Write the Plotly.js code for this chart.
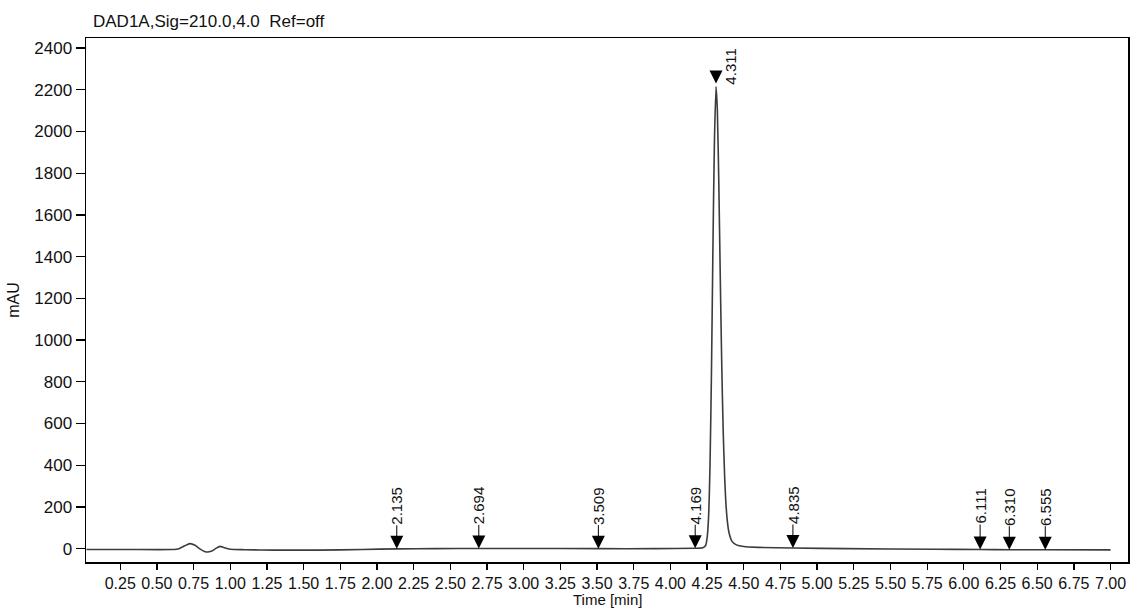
<!DOCTYPE html>
<html>
<head>
<meta charset="utf-8">
<script src="https://cdn.plot.ly/plotly-3.0.1.min.js"></script>
<style>html,body{margin:0;padding:0;background:#fff;}#chart{width:1130px;height:608px;}</style>
</head>
<body>
<div id="chart"></div>
<script>
// Chromatogram trace (time in min, signal in mAU)
var times = [0.02,0.30,0.60,0.65,0.69,0.725,0.76,0.79,0.83,0.87,
             0.90,0.93,0.96,1.00,1.10,1.30,1.60,1.90,2.135,2.40,
             2.694,3.00,3.509,3.90,4.169,4.22,4.24,4.25,4.26,4.27,
             4.28,4.29,4.30,4.311,4.32,4.33,4.34,4.35,4.36,4.37,
             4.38,4.39,4.40,4.42,4.45,4.50,4.60,4.835,5.20,5.80,
             6.111,6.310,6.555,7.00];
var signal = [-4,-4,-4,0,14,24,16,0,-15,-13,
              0,11,4,-3,-5,-7,-7,-4,-1,0,
              1,1,0,0,2,4,15,50,150,400,
              850,1450,1950,2215,2100,1750,1300,880,560,340,
              200,120,75,35,18,10,6,3,0,-3,
              -4,-5,-5,-6];

// Small peaks marked on the baseline
var peakTimes = [2.135,2.694,3.509,4.169,4.835,6.111,6.310,6.555];
var peakHeights = [-1,1,0,2,3,-4,-5,-5];
var peakLabels = ["2.135","2.694","3.509","4.169","4.835","6.111","6.310","6.555"];

// Main peak
var mainPeakTime = 4.311;
var mainPeakHeight = 2215;
var mainPeakLabel = "4.311";

var chartTitle = "DAD1A,Sig=210.0,4.0  Ref=off";
var xTitle = "Time [min]";
var yTitle = "mAU";

var FONT = "Liberation Sans, Arial, sans-serif";
var TXT = "#111111";

var annotations = [];
for (var i = 0; i < peakTimes.length; i++) {
  annotations.push({
    x: peakTimes[i], y: peakHeights[i], xref: 'x', yref: 'y',
    text: peakLabels[i], textangle: -90,
    font: {family: FONT, size: 15, color: TXT},
    showarrow: true, ax: 0, ay: -43,
    arrowhead: 2, arrowsize: 2.6, arrowwidth: 1, arrowcolor: '#000',
    standoff: 0, borderpad: 0
  });
}
annotations.push({
  x: mainPeakTime, y: mainPeakHeight, xref: 'x', yref: 'y',
  text: '', showarrow: true, ax: 0, ay: -13,
  arrowhead: 2, arrowsize: 2.6, arrowwidth: 1, arrowcolor: '#000', standoff: 3
});
annotations.push({
  x: mainPeakTime, y: mainPeakHeight, xref: 'x', yref: 'y',
  text: mainPeakLabel, textangle: -90, showarrow: false,
  xanchor: 'center', yanchor: 'middle', xshift: 15, yshift: 20,
  font: {family: FONT, size: 15, color: TXT}
});
// x-axis title placed as a paper annotation so it sits below the tick labels
annotations.push({
  xref: 'paper', yref: 'paper', x: 0.5, y: -(599.5 - 562) / 524,
  xanchor: 'center', yanchor: 'middle', showarrow: false, borderpad: 0,
  text: xTitle, font: {family: FONT, size: 15, color: TXT}
});

var data = [{
  x: times, y: signal, type: 'scatter', mode: 'lines',
  line: {color: '#3c3c3c', width: 1.6, shape: 'spline', smoothing: 0.6},
  hoverinfo: 'skip'
}];

var layout = {
  width: 1130, height: 608,
  margin: {l: 86, r: 2, t: 38, b: 46},
  paper_bgcolor: '#fff', plot_bgcolor: '#fff',
  showlegend: false,
  title: {
    text: chartTitle, xref: 'container', yref: 'container',
    x: 93/1130, xanchor: 'left', y: 1 - 21/608, yanchor: 'middle',
    font: {family: FONT, size: 17, color: TXT}
  },
  xaxis: {
    range: [0.0167, 7.119], tick0: 0.25, dtick: 0.25, tickformat: '.2f',
    ticks: 'outside', ticklen: 6, tickwidth: 1.3, tickcolor: '#000',
    showline: true, linecolor: '#000', linewidth: 1.5, mirror: true,
    showgrid: false, zeroline: false,
    tickfont: {family: FONT, size: 16, color: TXT},
    automargin: false
  },
  yaxis: {
    range: [-64, 2448], tick0: 0, dtick: 200,
    ticks: 'outside', ticklen: 9, tickwidth: 1.3, tickcolor: '#000',
    showline: true, linecolor: '#000', linewidth: 1.5, mirror: true,
    showgrid: false, zeroline: false,
    tickfont: {family: FONT, size: 17, color: TXT},
    title: {text: yTitle, font: {family: FONT, size: 16, color: TXT}, standoff: 10},
    automargin: false
  },
  annotations: annotations
};

Plotly.newPlot('chart', data, layout, {staticPlot: true, displayModeBar: false});
</script>
</body>
</html>
